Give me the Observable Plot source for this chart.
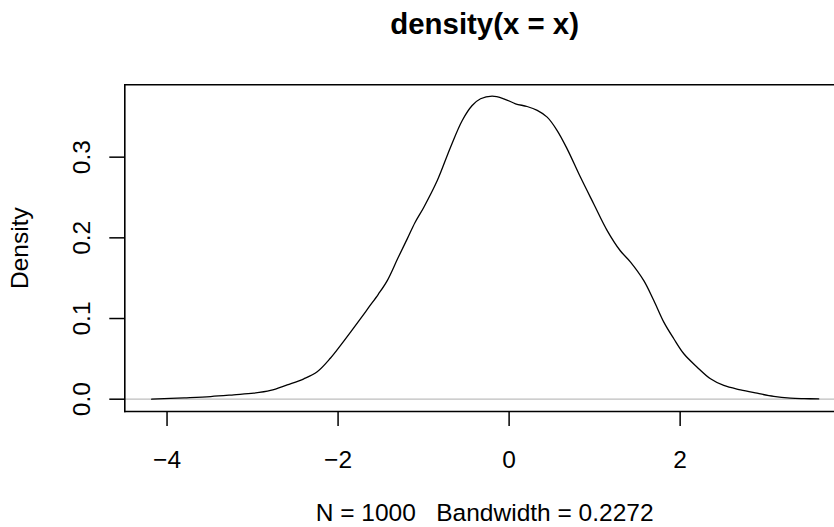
<!DOCTYPE html>
<html><head><meta charset="utf-8">
<script src="https://cdn.jsdelivr.net/npm/d3@7"></script>
<script src="https://cdn.jsdelivr.net/npm/@observablehq/plot@0.6"></script>
<style>html,body{margin:0;padding:0;overflow:hidden;background:#fff;width:834px;height:527px}</style>
</head><body><div id="chart"></div>
<script>
const densityX = [-4.18, -3.80, -3.49, -3.22, -2.985, -2.79, -2.595, -2.40, -2.244, -2.088, -1.971, -1.854, -1.75, -1.64, -1.53, -1.425, -1.30, -1.19, -1.10, -0.997, -0.84, -0.685, -0.548, -0.432, -0.334, -0.198, -0.062, 0.075, 0.21, 0.329, 0.445, 0.562, 0.68, 0.835, 0.99, 1.147, 1.30, 1.42, 1.575, 1.692, 1.809, 1.926, 2.043, 2.199, 2.355, 2.51, 2.706, 2.90, 3.095, 3.29, 3.45, 3.62];
const densityY = [0.0000, 0.0017, 0.0033, 0.0054, 0.0074, 0.0108, 0.0178, 0.0253, 0.0340, 0.051, 0.0666, 0.083, 0.098, 0.114, 0.130, 0.147, 0.175, 0.199, 0.219, 0.238, 0.271, 0.3124, 0.3455, 0.364, 0.3724, 0.3756, 0.3724, 0.3662, 0.3628, 0.358, 0.3496, 0.333, 0.310, 0.275, 0.242, 0.209, 0.184, 0.170, 0.147, 0.1223, 0.0955, 0.0749, 0.0563, 0.0397, 0.0253, 0.017, 0.0116, 0.0074, 0.0034, 0.0013, 0.0007, 0.0004];
const xTicks = [-4, -2, 0, 2];
const yTicks = [0, 0.1, 0.2, 0.3];
const titleText = "density(x = x)";
const subText = "N = 1000   Bandwidth = 0.2272";
const yLabel = "Density";

const curve = densityX.map((x, i) => ({x, y: densityY[i]}));
const font = "'Liberation Sans', Arial, Helvetica, sans-serif";

const chart = Plot.plot({
  width: 834, height: 527,
  marginTop: 84.3, marginBottom: 116, marginLeft: 124.3, marginRight: 0,
  style: {fontFamily: font, background: "#fff", color: "#000", overflow: "hidden"},
  x: {domain: [-4.494, 3.805]},
  y: {domain: [-0.01525, 0.3897]},
  marks: [
    Plot.ruleY([0], {stroke: "#bebebe", strokeWidth: 1.3}),
    Plot.line(curve, {x: "x", y: "y", stroke: "#000", strokeWidth: 1.3, curve: "catmull-rom"}),
    Plot.frame({anchor: "top", stroke: "#000", strokeWidth: 1.6}),
    Plot.frame({anchor: "bottom", stroke: "#000", strokeWidth: 1.6}),
    Plot.frame({anchor: "left", stroke: "#000", strokeWidth: 1.6}),
    Plot.axisX(xTicks, {tickSize: 15, tickPadding: 24, fontSize: 24.5, strokeWidth: 1.5, label: null}),
    Plot.axisY(yTicks, {tickSize: 15, tickPadding: 20, tickRotate: -90, fontSize: 24.5, strokeWidth: 1.5, tickFormat: d3.format(".1f"), label: null}),
    Plot.text([titleText], {text: d => d, frameAnchor: "top", dx: 5, dy: -51, lineAnchor: "bottom", fontWeight: "bold", fontSize: 29.4}),
    Plot.text([subText], {text: d => d, frameAnchor: "bottom", dx: 5, dy: 109, lineAnchor: "bottom", fontSize: 24.5}),
    Plot.text([yLabel], {text: d => d, frameAnchor: "left", dx: -97, rotate: -90, textAnchor: "middle", lineAnchor: "bottom", fontSize: 24.5})
  ]
});
document.getElementById("chart").appendChild(chart);
</script>
</body></html>
